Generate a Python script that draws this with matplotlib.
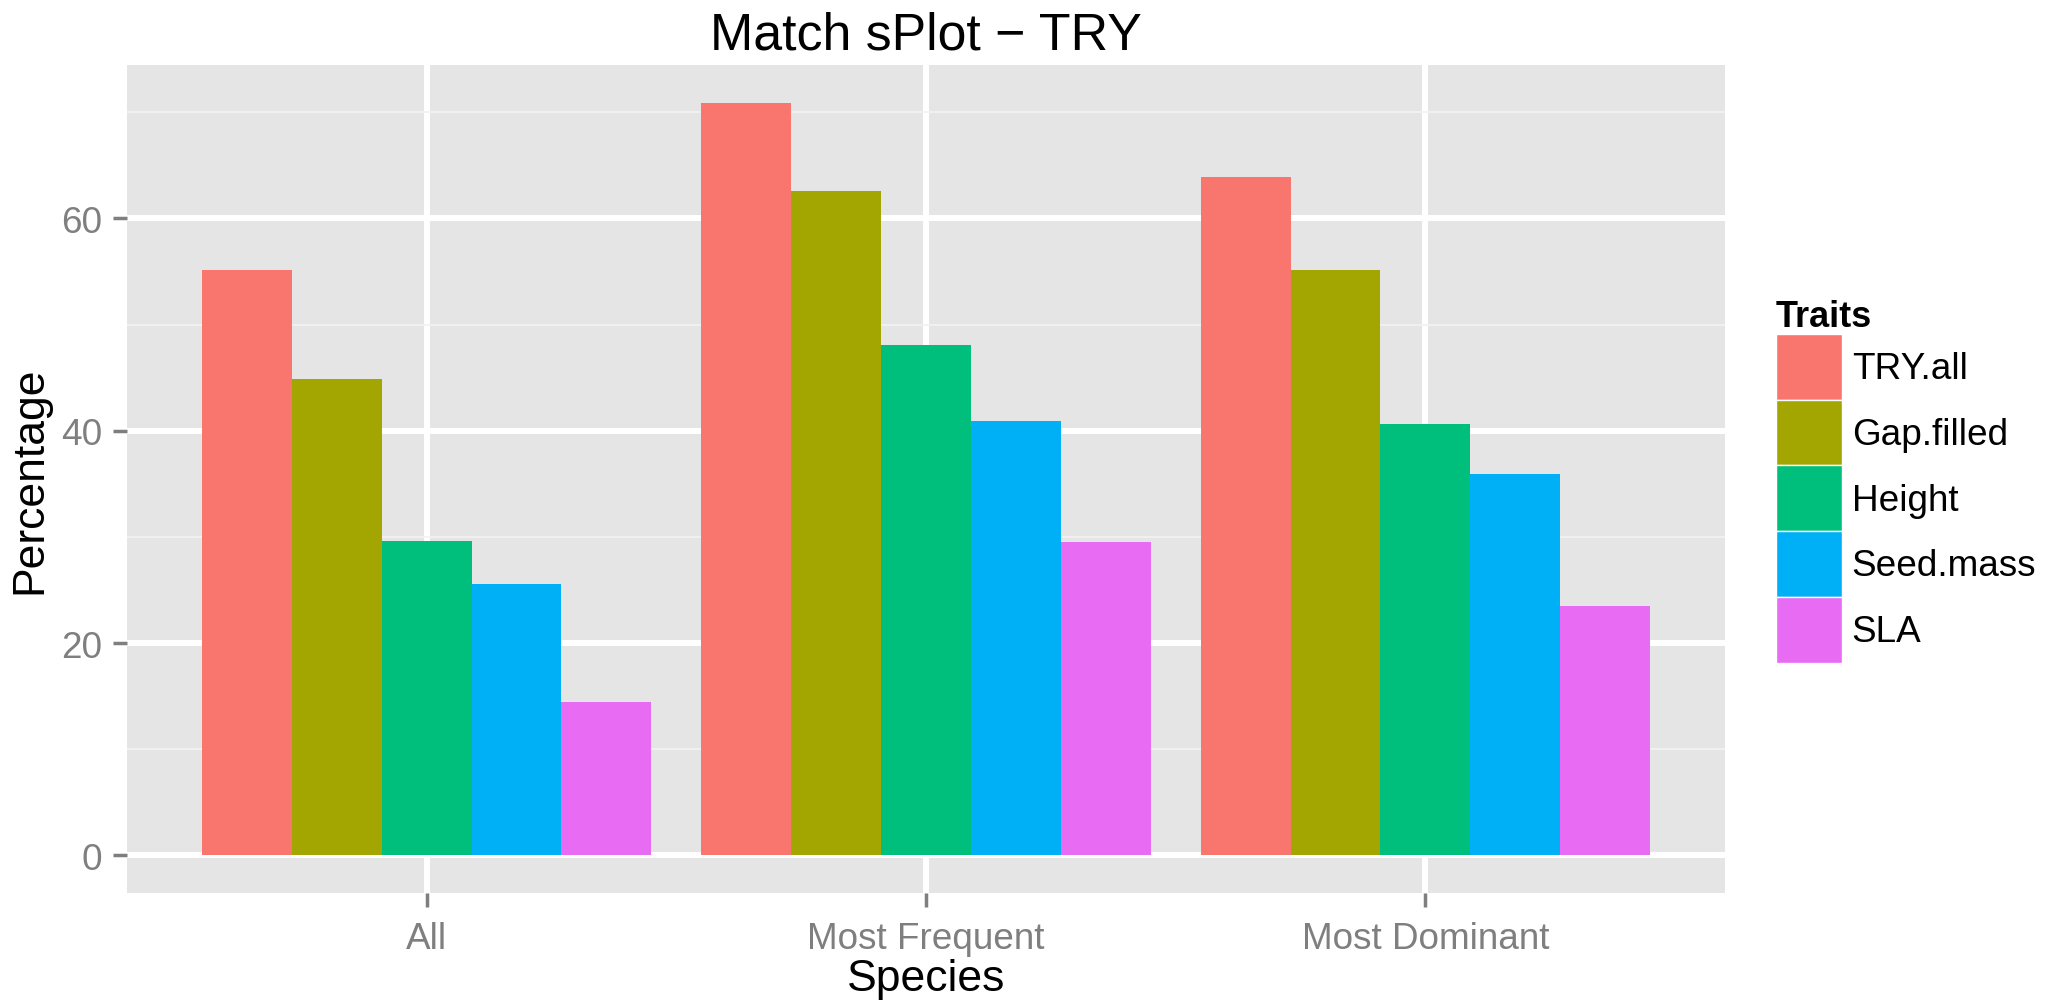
import matplotlib.pyplot as plt
from matplotlib.patches import Patch
import numpy as np

# данные
species = ['All', 'Most Frequent', 'Most Dominant']
traits = ['TRY.all', 'Gap.filled', 'Height', 'Seed.mass', 'SLA']
try_all = [55.1, 70.9, 63.9]
gap_filled = [44.9, 62.6, 55.1]
height = [29.6, 48.1, 40.6]
seed_mass = [25.6, 40.9, 35.9]
sla = [14.4, 29.5, 23.5]

colors = ['#F8766D', '#A3A500', '#00BF7D', '#00B0F6', '#E76BF3']
grey = '#7F7F7F'

plt.rcParams['font.family'] = ['Liberation Sans', 'DejaVu Sans']

fig = plt.figure(figsize=(20.47, 10.04), dpi=100)
ax = fig.add_axes([127 / 2047, 1 - 894 / 1004, 1598 / 2047, 828 / 1004])
ax.set_facecolor('#E5E5E5')

x = np.arange(1, len(species) + 1)
width = 0.18
series = [try_all, gap_filled, height, seed_mass, sla]
for i, vals in enumerate(series):
    ax.bar(x + (i - 2) * width, vals, width=width, color=colors[i],
           label=traits[i], zorder=3)

# оси как в ggplot
ymax = max(try_all) * 1.05
ax.set_xlim(0.4, 3.6)
ax.set_ylim(-ymax / 1.05 * 0.05, ymax)
ax.set_xticks(x)
ax.set_xticklabels(species)
ax.set_yticks([0, 20, 40, 60])
ax.set_yticks([10, 30, 50, 70], minor=True)
ax.grid(which='major', color='white', linewidth=4.3, zorder=1)
ax.grid(which='minor', axis='y', color='#F2F2F2', linewidth=1.3, zorder=1)
ax.set_axisbelow(True)
for s in ax.spines.values():
    s.set_visible(False)

ax.tick_params(which='major', length=10, width=2.5, color=grey,
               labelsize=26.6, labelcolor=grey)
ax.tick_params(axis='x', pad=10.5)
ax.tick_params(axis='y', pad=8)
ax.tick_params(which='minor', length=0)

ax.set_xlabel('Species', fontsize=32, va='center')
ax.xaxis.set_label_coords(0.5, (894 - 980) / 828)
ax.set_ylabel('Percentage', fontsize=32, va='center')
ax.yaxis.set_label_coords((30 - 127) / 1598, 0.5)

fig.text(926 / 2047, 1 - 36 / 1004, 'Match sPlot \u2212 TRY', fontsize=37.4,
         ha='center', va='center')

handles = [Patch(facecolor=c, edgecolor='white', linewidth=1) for c in colors]
fig.legend(handles, traits, loc='upper left',
           bbox_to_anchor=(1776 / 2047, 1 - 300 / 1004),
           frameon=False, fontsize=26.6, title='Traits',
           title_fontproperties={'weight': 'bold', 'size': 26},
           alignment='left', handlelength=1.78, handleheight=2.36,
           labelspacing=0, handletextpad=0.27, borderpad=0, borderaxespad=0)

fig.savefig('out.png', dpi=100)
